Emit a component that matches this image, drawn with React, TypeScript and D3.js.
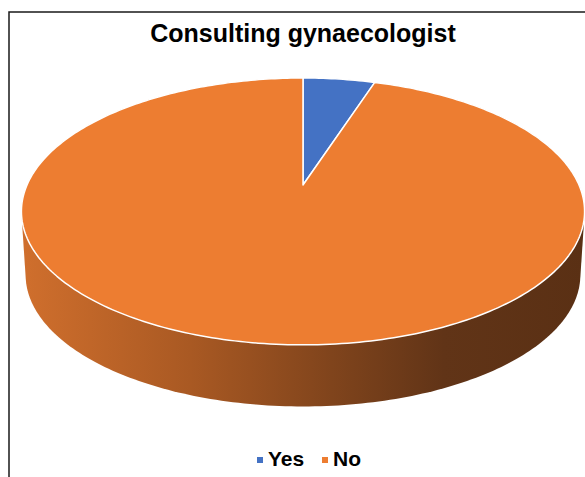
import React from "react";
import * as d3 from "d3";

const categories = ["Yes", "No"];
const values = [5, 95];
const colors = ["#4472c4", "#ed7d31"];
const title = "Consulting gynaecologist";

const W = 585;
const H = 477;

// perspective pie parameters
const cx = 303;
const cy = 185;
const ra = 128.2; // vertical radius factor
const rb = 276; // horizontal radius factor
const k = 0.198; // perspective strength
const depth = 64;
const bottomScale = 0.985;

function project(theta: number, r: number, z: number): [number, number] {
  const s = z ? bottomScale : 1;
  const q = 1 + k * r * Math.cos(theta);
  return [
    cx + (s * rb * r * Math.sin(theta)) / q,
    cy + z * depth - (s * ra * r * Math.cos(theta)) / q,
  ];
}

function arcPoints(a0: number, a1: number, z: number) {
  const n = Math.max(8, Math.ceil(((a1 - a0) / (2 * Math.PI)) * 360));
  return d3.range(n + 1).map((i) => project(a0 + ((a1 - a0) * i) / n, 1, z));
}

export default function App() {
  const pie = d3.pie<number>().sort(null).startAngle(0).endAngle(2 * Math.PI);
  const arcs = pie(values);
  const line = d3.line();

  // side of the disc = hull of top and bottom rims
  const ring = d3.range(0, 360).map((i) => (i / 360) * 2 * Math.PI);
  const pts = ring.map((t) => project(t, 1, 0)).concat(ring.map((t) => project(t, 1, 1)));
  const hull = d3.polygonHull(pts as [number, number][]) || [];

  const legendX = d3.scaleOrdinal<string, number>().domain(categories).range([257, 322]);

  return (
    <svg width={W} height={H} style={{ position: "absolute", left: 0, top: 0, background: "#fff" }}>
      <defs>
        <linearGradient id="side" x1="21" x2="585" y1="0" y2="0" gradientUnits="userSpaceOnUse">
          <stop offset="0" stopColor="#d06f2d" />
          <stop offset="0.3" stopColor="#a95923" />
          <stop offset="0.55" stopColor="#80441c" />
          <stop offset="0.75" stopColor="#613417" />
          <stop offset="1" stopColor="#5a3014" />
        </linearGradient>
      </defs>
      <rect x={9} y={12} width={W + 10} height={H + 10} fill="#fff" stroke="#1a1a1a" strokeWidth={1.5} />
      <text
        x={cx}
        y={42}
        textAnchor="middle"
        fontFamily="Liberation Sans, Arial, sans-serif"
        fontWeight="bold"
        fontSize={25}
        fill="#000"
      >
        {title}
      </text>
      <path d={line(hull as [number, number][]) + "Z"} fill="url(#side)" />
      {arcs.map((a, i) => {
        const p = [[cx, cy] as [number, number], ...arcPoints(a.startAngle, a.endAngle, 0)];
        return (
          <path
            key={categories[i]}
            d={line(p) + "Z"}
            fill={colors[i]}
            stroke="#fff"
            strokeWidth={1.5}
            strokeLinejoin="round"
          />
        );
      })}
      {categories.map((c, i) => (
        <g key={c} transform={`translate(${legendX(c)},0)`}>
          <rect x={0} y={457} width={6} height={6} fill={colors[i]} />
          <text
            x={11}
            y={466}
            fontFamily="Liberation Sans, Arial, sans-serif"
            fontWeight="bold"
            fontSize={21}
            fill="#000"
          >
            {c}
          </text>
        </g>
      ))}
    </svg>
  );
}
